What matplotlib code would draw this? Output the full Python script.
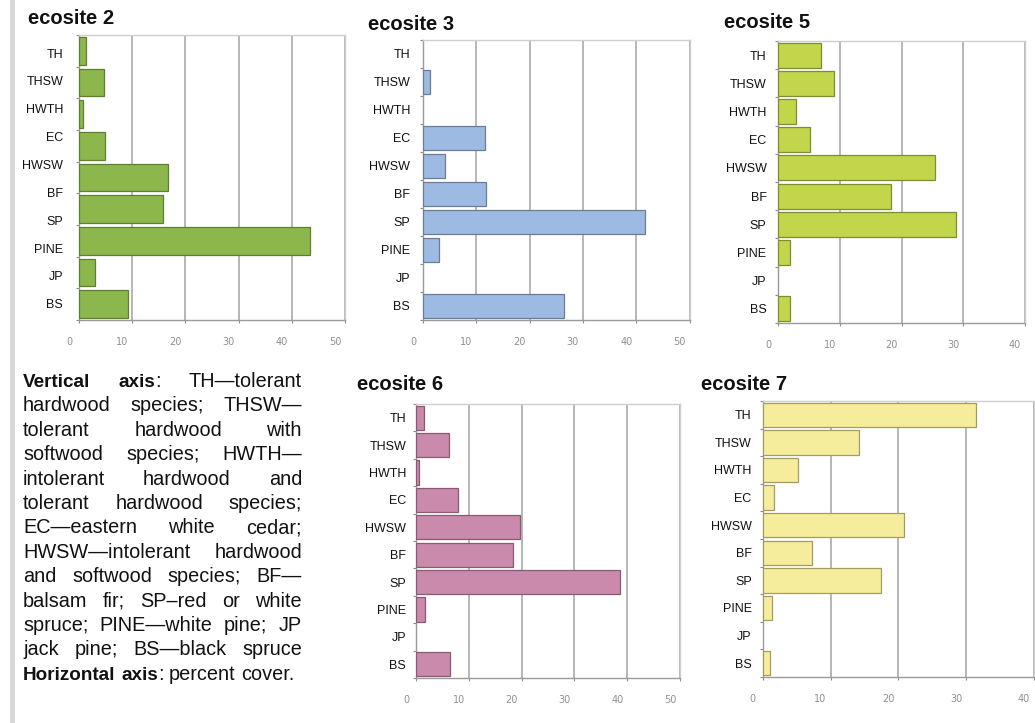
import numpy as np
import matplotlib
matplotlib.use("Agg")
import matplotlib.pyplot as plt
from matplotlib.patches import Rectangle
from matplotlib.transforms import ScaledTranslation

# ---------------- data ----------------
categories = ["TH", "THSW", "HWTH", "EC", "HWSW", "BF", "SP", "PINE", "JP", "BS"]
eco2_values = [1.4, 4.7, 0.75, 4.9, 16.8, 15.8, 43.4, 3.1, 9.2]   # 9 bars drawn in the original panel
eco3_values = [0, 1.25, 0, 11.7, 4.1, 11.9, 41.6, 3.0, 0, 26.4]
eco5_values = [6.9, 9.1, 2.9, 5.2, 25.5, 18.3, 28.8, 2.0, 0, 1.9]
eco6_values = [1.5, 6.2, 0.6, 8.0, 19.7, 18.4, 38.7, 1.7, 0, 6.4]
eco7_values = [31.4, 14.2, 5.25, 1.7, 20.9, 7.3, 17.4, 1.3, 0, 1.1]
x_ticks_50 = [0, 10, 20, 30, 40, 50]
x_ticks_40 = [0, 10, 20, 30, 40]

W, H = 1035, 723
DPI = 100
fig = plt.figure(figsize=(W / DPI, H / DPI), dpi=DPI)
fig.patch.set_facecolor("white")

FONT = ["Liberation Sans", "DejaVu Sans"]


def px_rect(l, t, r, b):
    return [l / W, 1 - b / H, (r - l) / W, (b - t) / H]


def fx(x):
    return x / W


def fy(y):
    return 1 - y / H


# grey stripe at far left
fig.add_artist(Rectangle((fx(10), 0), 5 / W, 1, transform=fig.transFigure,
                         facecolor="#d9d9d9", edgecolor="none"))


def panel(rect, title, tx, ty, values, colour, edge, xticks, label_pos=None, pad_px=11):
    ax = fig.add_axes(rect)
    n = len(values)
    y = np.arange(n)
    lws = [0.9 if v > 0 else 0 for v in values]
    ax.barh(y, values, height=0.88, color=colour, edgecolor=edge, linewidth=lws, zorder=3)
    ax.set_ylim(n - 0.5, -0.5)
    ax.set_xlim(xticks[0], xticks[-1])
    # y labels
    if label_pos is None:
        label_pos = y
    ax.set_yticks(label_pos)
    ax.set_yticklabels(categories, fontsize=9, family=FONT, color="#111111")
    ax.tick_params(axis="y", which="major", length=0, pad=pad_px * 0.72)
    ax.set_yticks(np.arange(n + 1) - 0.5, minor=True)
    ax.tick_params(axis="y", which="minor", length=2.5, width=0.8, color="#8a8a8a", direction="out")
    # x ticks
    ax.set_xticks(xticks)
    ax.set_xticklabels([str(v) for v in xticks], fontsize=7, color="#8f8f8f",
                       family=["DejaVu Sans"])
    ax.tick_params(axis="x", length=2.5, width=0.8, color="#8a8a8a", direction="out",
                   pad=14 * 0.72)
    off = ScaledTranslation(-10 / DPI, 0, fig.dpi_scale_trans)
    for lab in ax.get_xticklabels():
        lab.set_transform(lab.get_transform() + off)
    ax.grid(axis="x", color="#a3a3a3", linewidth=1.1, zorder=0)
    ax.grid(axis="y", visible=False)
    ax.set_axisbelow(True)
    for s in ["top", "right"]:
        ax.spines[s].set_color("#cfcfcf")
        ax.spines[s].set_linewidth(1.0)
    for s in ["left", "bottom"]:
        ax.spines[s].set_color("#9a9a9a")
        ax.spines[s].set_linewidth(1.0)
    fig.text(fx(tx), fy(ty), title, fontsize=14.5, fontweight="bold", family=FONT,
             ha="left", va="center", color="#111111")
    return ax


# ecosite 2: 9 bars, 10 labels placed as in the original
eco2_label_pos = np.linspace(0.07, 7.99, len(categories))
panel(px_rect(79, 35, 345, 320), "ecosite 2", 28, 18, eco2_values,
      "#8cb74c", "#5d7f2e", x_ticks_50, label_pos=eco2_label_pos, pad_px=16)
panel(px_rect(423, 40, 689.5, 320), "ecosite 3", 368, 24, eco3_values,
      "#9dbae2", "#6b7c96", x_ticks_50, pad_px=13)
panel(px_rect(778, 41, 1025, 323), "ecosite 5", 724, 23, eco5_values,
      "#c3d64b", "#7f8c33", x_ticks_40, pad_px=11.5)
panel(px_rect(416, 404, 680, 678), "ecosite 6", 357, 385, eco6_values,
      "#c98aab", "#8a5a73", x_ticks_50, pad_px=10)
panel(px_rect(762.7, 401, 1034, 677), "ecosite 7", 701, 385, eco7_values,
      "#f6ed9c", "#a39c62", x_ticks_40, pad_px=11)

# ---------------- justified explanatory text ----------------
B, R = "bold", "normal"
lines = [
    [[("Vertical", B)], [("axis", B), (":", R)], [("TH—tolerant", R)]],
    [[("hardwood", R)], [("species;", R)], [("THSW—", R)]],
    [[("tolerant", R)], [("hardwood", R)], [("with", R)]],
    [[("softwood", R)], [("species;", R)], [("HWTH—", R)]],
    [[("intolerant", R)], [("hardwood", R)], [("and", R)]],
    [[("tolerant", R)], [("hardwood", R)], [("species;", R)]],
    [[("EC—eastern", R)], [("white", R)], [("cedar;", R)]],
    [[("HWSW—intolerant", R)], [("hardwood", R)]],
    [[("and", R)], [("softwood", R)], [("species;", R)], [("BF—", R)]],
    [[("balsam", R)], [("fir;", R)], [("SP–red", R)], [("or", R)], [("white", R)]],
    [[("spruce;", R)], [("PINE—white", R)], [("pine;", R)], [("JP", R)]],
    [[("jack", R)], [("pine;", R)], [("BS—black", R)], [("spruce", R)]],
    [[("Horizontal", B)], [("axis", B), (":", R)], [("percent", R)], [("cover.", R)]],
]

renderer = fig.canvas.get_renderer()
FS_R, FS_B = 14.3, 13.6


def width_px(s, weight):
    t = fig.text(0, 0, s, fontsize=FS_B if weight == B else FS_R, fontweight=weight, family=FONT)
    w = t.get_window_extent(renderer).width
    t.remove()
    return w


space_w = width_px("a a", R) - width_px("aa", R)
left_px, right_px = 23, 302
base0, step = 387, 24.4
for i, line in enumerate(lines):
    widths = [sum(width_px(s, w) for s, w in tok) for tok in line]
    last = i == len(lines) - 1
    if last or len(line) == 1:
        gap = space_w
    else:
        gap = (right_px - left_px - sum(widths)) / (len(line) - 1)
    x = left_px
    yb = base0 + i * step
    for tok, tw in zip(line, widths):
        xs = x
        for s, w in tok:
            fig.text(fx(xs), fy(yb), s, fontsize=FS_B if w == B else FS_R, fontweight=w,
                     family=FONT, ha="left", va="baseline", color="#111111")
            xs += width_px(s, w)
        x += tw + gap

fig.savefig("out.png", dpi=DPI, facecolor="white")
